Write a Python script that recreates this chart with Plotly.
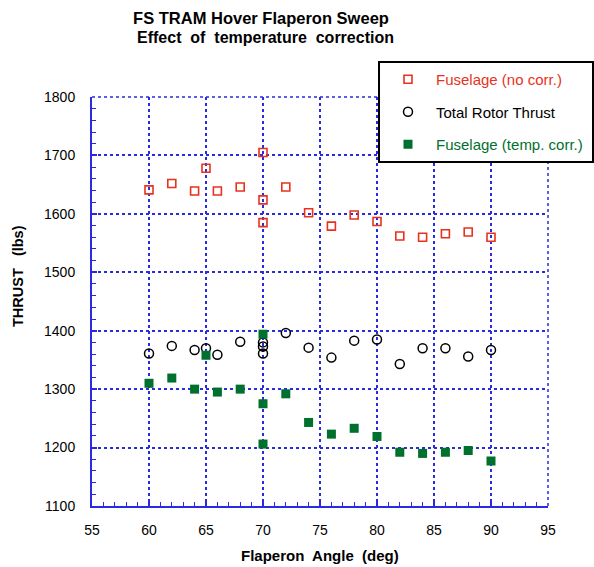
import plotly.graph_objects as go

# Flaperon angle (deg) for each run; 70 deg was repeated three times
angle = [60, 62, 64, 65, 66, 68, 70, 70, 70, 72, 74, 76, 78, 80, 82, 84, 86, 88, 90]

# Fuselage thrust without correction (lbs)
fuselage_raw = [1641, 1652, 1639, 1678, 1639, 1646, 1705, 1624, 1585, 1646,
                1602, 1579, 1598, 1587, 1562, 1560, 1566, 1569, 1560]

# Total rotor thrust (lbs)
rotor_total = [1361, 1374, 1367, 1370, 1359, 1381, 1380, 1373, 1361, 1396,
               1371, 1354, 1383, 1385, 1343, 1370, 1370, 1356, 1367]

# Fuselage thrust with temperature correction (lbs)
fuselage_corr = [1310, 1319, 1300, 1358, 1295, 1300, 1394, 1275, 1206, 1292,
                 1243, 1223, 1233, 1219, 1192, 1190, 1192, 1195, 1177]

x_ticks = [55, 60, 65, 70, 75, 80, 85, 90, 95]
y_ticks = [1100, 1200, 1300, 1400, 1500, 1600, 1700, 1800]

RED = "#e8321e"
GREEN = "#00702e"
BLUE = "#2a2ae0"
FONT = "Liberation Sans, Arial, sans-serif"

# plot-area geometry in pixels (figure 594 x 567)
L, R, T, B = 92, 548, 97, 506


def px_x(p):
    return (p - L) / (R - L)


def px_y(p):
    return (B - p) / (B - T)


fig = go.Figure()
fig.add_trace(go.Scatter(
    x=angle, y=fuselage_raw, mode="markers", legendgroup="a",
    name=f"<span style='color:{RED}'>Fuselage (no corr.)</span>",
    marker=dict(symbol="square-open", size=8, color=RED, line=dict(width=1.6, color=RED)),
))
fig.add_trace(go.Scatter(
    x=angle, y=rotor_total, mode="markers", legendgroup="b",
    name="Total Rotor Thrust",
    marker=dict(symbol="circle-open", size=9, color="black", line=dict(width=1.5, color="black")),
))
fig.add_trace(go.Scatter(
    x=angle, y=fuselage_corr, mode="markers", legendgroup="c",
    name=f"<span style='color:{GREEN}'>Fuselage (temp. corr.)\u00a0</span>",
    marker=dict(symbol="square", size=9, color=GREEN, line=dict(width=0)),
))

axis_common = dict(
    showgrid=True, gridcolor=BLUE, gridwidth=1.5, griddash="dot",
    showline=True, linecolor=BLUE, linewidth=2,
    ticks="inside", ticklen=5, tickcolor=BLUE, tickwidth=1.5,
    tickfont=dict(family=FONT, size=14, color="black"),
    zeroline=False,
)

fig.update_xaxes(
    range=[55, 95], tickvals=x_ticks, ticktext=[str(v) for v in x_ticks],
    minor=dict(dtick=1, ticks="inside", ticklen=4, tickcolor=BLUE, tickwidth=1.2, showgrid=False),
    ticklabelstandoff=10,
    **axis_common,
)
fig.update_yaxes(
    range=[1100, 1800], tickvals=y_ticks, ticktext=[str(v) for v in y_ticks],
    minor=dict(dtick=20, tick0=1100, ticks="inside", ticklen=4, tickcolor=BLUE, tickwidth=1.2, showgrid=False),
    ticklabelstandoff=12,
    **axis_common,
)

# dotted frame along the top and right edges of the plot area
fig.add_shape(type="line", xref="paper", yref="paper", x0=0, x1=1, y0=1, y1=1,
              line=dict(color=BLUE, width=1.5, dash="dot"), layer="below")
fig.add_shape(type="line", xref="paper", yref="paper", x0=1, x1=1, y0=0, y1=1,
              line=dict(color=BLUE, width=1.5, dash="dot"), layer="below")

# legend drop shadow
fig.add_shape(type="rect", xref="paper", yref="paper",
              x0=px_x(383), x1=px_x(596),
              y0=px_y(162), y1=px_y(66),
              fillcolor="black", line=dict(width=0), layer="above")

fig.add_annotation(text="<b>Effect\u00a0 of\u00a0 temperature\u00a0 correction</b>", xref="paper", yref="paper",
                   x=px_x(265), y=px_y(37.5), showarrow=False,
                   font=dict(family=FONT, size=16, color="black"), xanchor="center", yanchor="middle")
fig.add_annotation(text="<b>Flaperon\u00a0 Angle\u00a0 (deg)</b>", xref="paper", yref="paper",
                   x=px_x(320), y=px_y(555), showarrow=False,
                   font=dict(family=FONT, size=15, color="black"), xanchor="center", yanchor="middle")
fig.add_annotation(text="<b>THRUST\u00a0\u00a0 (lbs)</b>", xref="paper", yref="paper",
                   x=px_x(18), y=px_y(276), showarrow=False, textangle=-90,
                   font=dict(family=FONT, size=14.5, color="black"), xanchor="center", yanchor="middle")

fig.update_layout(
    width=594, height=567,
    margin=dict(l=L, r=594 - R, t=T, b=567 - B, autoexpand=False),
    paper_bgcolor="white", plot_bgcolor="white",
    font=dict(family=FONT, color="black"),
    title=dict(
        text="<b>FS TRAM Hover Flaperon Sweep</b>",
        x=261 / 594, xanchor="center", xref="container",
        y=1 - 18.5 / 567, yanchor="middle", yref="container",
        font=dict(family=FONT, size=16.5, color="black"),
    ),
    showlegend=True,
    legend=dict(
        x=px_x(378), y=px_y(61), xanchor="left", yanchor="top",
        bgcolor="white", bordercolor="black", borderwidth=2,
        font=dict(family=FONT, size=15, color="black"),
        traceorder="grouped", tracegroupgap=10, itemwidth=46,
    ),
)

fig.write_html("out.html")
